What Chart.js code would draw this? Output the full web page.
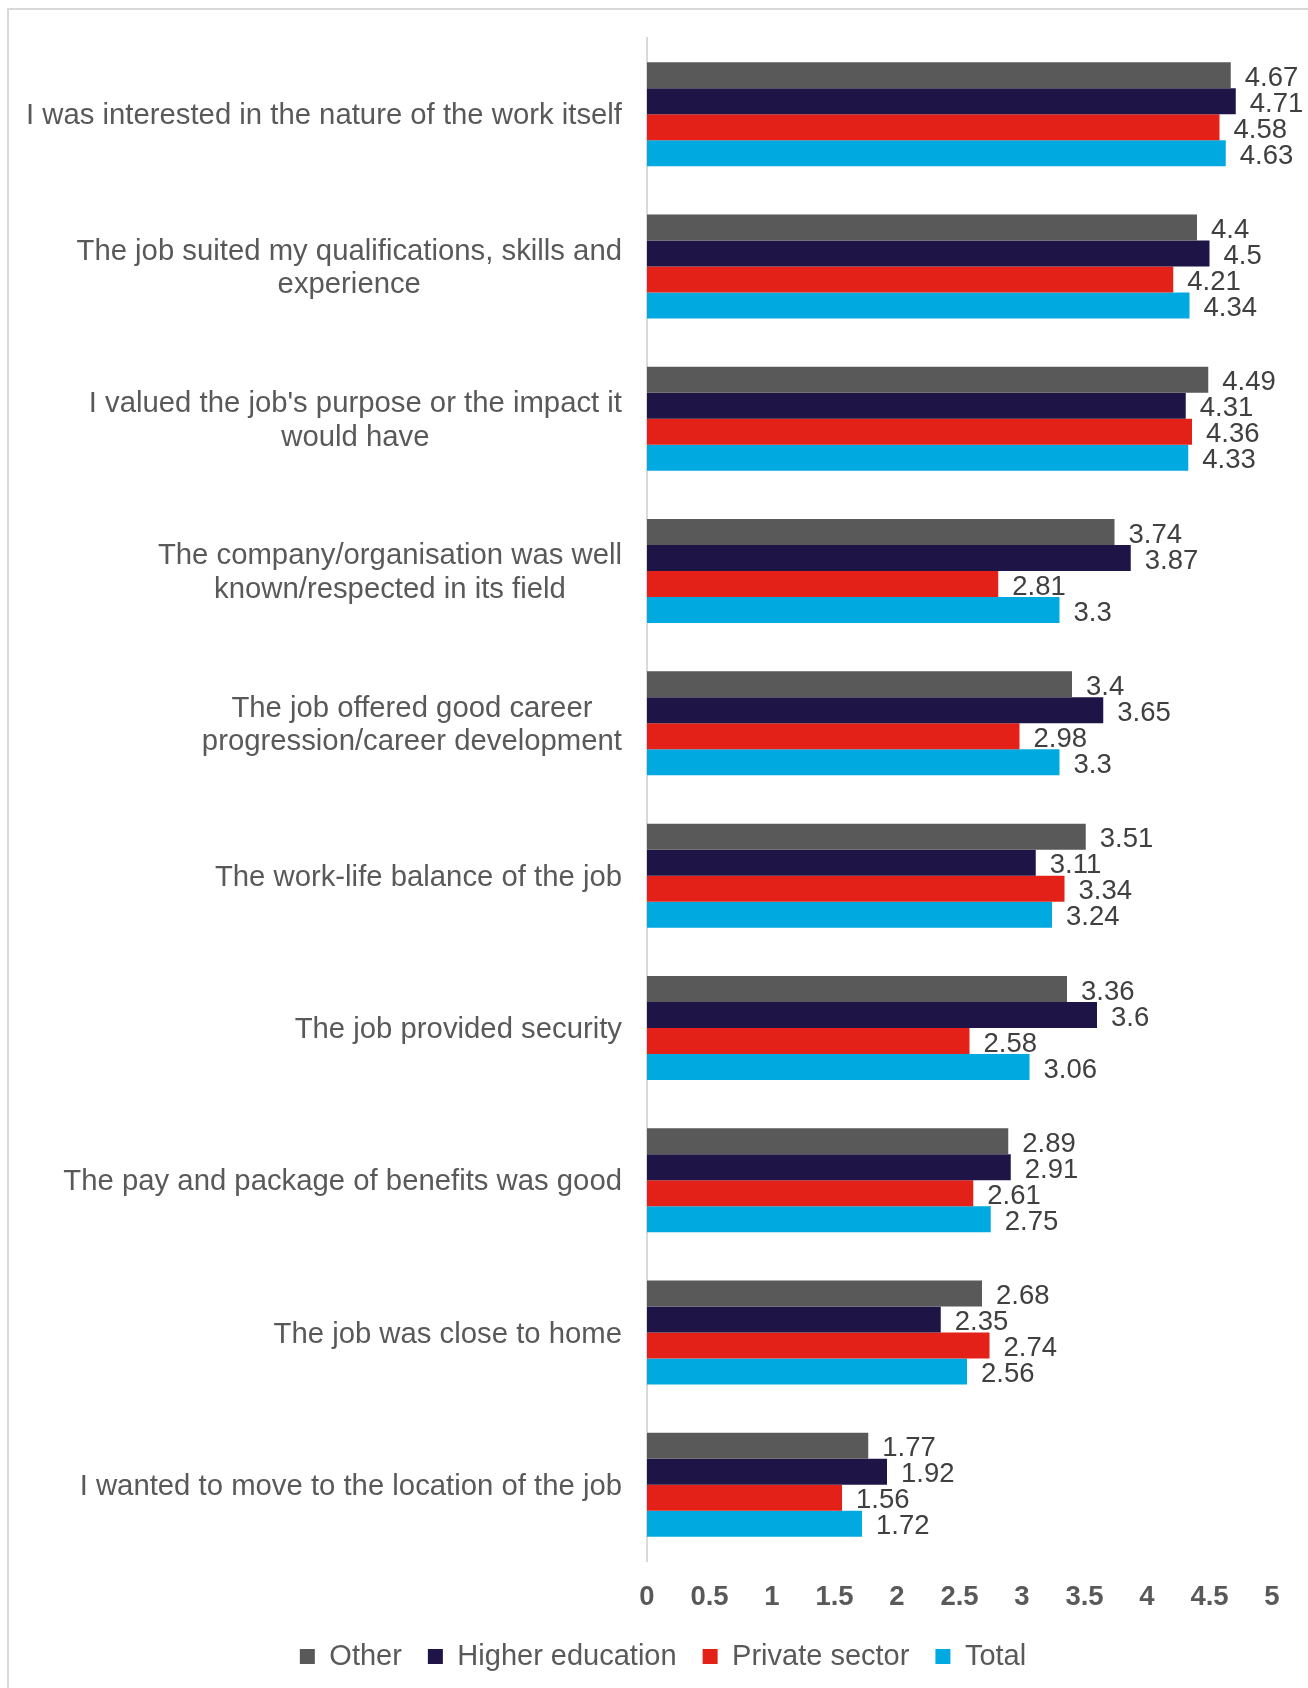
<!DOCTYPE html>
<html>
<head>
<meta charset="utf-8">
<title>Reasons for choosing the job</title>
<script src="https://cdn.jsdelivr.net/npm/chart.js@4/dist/chart.umd.min.js"></script>
<style>
    body { margin: 0; background: #fff; }
    #wrap { position: relative; width: 1308px; height: 1688px; overflow: hidden; }
    #frame {
        position: absolute; left: 7px; top: 8px; width: 1400px; height: 1800px;
        border-top: 2px solid #d9d9d9; border-left: 2px solid #d9d9d9;
    }
    #myChart { position: absolute; left: 0; top: 0; }
</style>
</head>
<body>
<div id="wrap">
    <div id="frame"></div>
    <canvas id="myChart" width="1308" height="1688"></canvas>
</div>
<script>
let reasons = [
    ['I was interested in the nature of the work itself'],
    ['The job suited my qualifications, skills and', 'experience'],
    ['I valued the job\'s purpose or the impact it', 'would have'],
    ['The company/organisation was well', 'known/respected in its field'],
    ['The job offered good career', 'progression/career development'],
    ['The work-life balance of the job'],
    ['The job provided security'],
    ['The pay and package of benefits was good'],
    ['The job was close to home'],
    ['I wanted to move to the location of the job']
]

let other = [4.67, 4.4, 4.49, 3.74, 3.4, 3.51, 3.36, 2.89, 2.68, 1.77]
let higherEducation = [4.71, 4.5, 4.31, 3.87, 3.65, 3.11, 3.6, 2.91, 2.35, 1.92]
let privateSector = [4.58, 4.21, 4.36, 2.81, 2.98, 3.34, 2.58, 2.61, 2.74, 1.56]
let total = [4.63, 4.34, 4.33, 3.3, 3.3, 3.24, 3.06, 2.75, 2.56, 1.72]

let xTicks = [0, 0.5, 1, 1.5, 2, 2.5, 3, 3.5, 4, 4.5, 5]

let fontFamily = '"Liberation Sans", Arial, Helvetica, sans-serif'

// value printed just past the end of each bar
let barValues = {
    id: 'barValues',
    afterDatasetsDraw(chart) {
        let ctx = chart.ctx
        ctx.save()
        ctx.font = '27.5px ' + fontFamily
        ctx.fillStyle = '#404040'
        ctx.textAlign = 'left'
        ctx.textBaseline = 'middle'
        chart.data.datasets.forEach((ds, i) => {
            chart.getDatasetMeta(i).data.forEach((bar, j) => {
                ctx.fillText(String(ds.data[j]), bar.x + 14, bar.y + 3)
            })
        })
        ctx.restore()
    }
}

// category names: block sits against the axis, lines centred inside the block
let categoryNames = {
    id: 'categoryNames',
    afterDraw(chart) {
        let ctx = chart.ctx
        let yScale = chart.scales.y
        let rightEdge = chart.chartArea.left - 25
        let lineHeight = 33.5
        ctx.save()
        ctx.font = '29.3px ' + fontFamily
        ctx.fillStyle = '#595959'
        ctx.textAlign = 'center'
        ctx.textBaseline = 'middle'
        reasons.forEach((lines, i) => {
            let widest = Math.max(...lines.map(l => ctx.measureText(l).width))
            let cx = rightEdge - widest / 2
            let cy = yScale.getPixelForValue(i)
            lines.forEach((line, k) => {
                ctx.fillText(line, cx, cy + (k - (lines.length - 1) / 2) * lineHeight + 2)
            })
        })
        ctx.restore()
    }
}

let ctx = document.getElementById('myChart').getContext('2d')
let chart = new Chart(ctx, {
    type: 'bar',
    data: {
        labels: reasons.map(r => r.join(' ')),
        datasets: [
            { label: 'Other', data: other, backgroundColor: '#595959' },
            { label: 'Higher education', data: higherEducation, backgroundColor: '#1f1446' },
            { label: 'Private sector', data: privateSector, backgroundColor: '#e32119' },
            { label: 'Total', data: total, backgroundColor: '#00a9e0' }
        ]
    },
    options: {
        indexAxis: 'y',
        responsive: false,
        animation: false,
        layout: {
            padding: { top: 38, right: 36, bottom: 7, left: 54 }
        },
        datasets: {
            bar: {
                categoryPercentage: 0.683,
                barPercentage: 1.0,
                borderWidth: 0
            }
        },
        scales: {
            x: {
                min: 0,
                max: 5,
                afterBuildTicks(scale) {
                    scale.ticks = xTicks.map(v => ({ value: v }))
                },
                afterFit(scale) {
                    scale.height = 55
                },
                grid: { display: false },
                border: { display: false },
                ticks: {
                    padding: 12,
                    color: '#595959',
                    font: { family: fontFamily, size: 27.5, weight: 'bold' },
                    callback: v => String(v)
                }
            },
            y: {
                afterFit(scale) {
                    scale.width = 647 - 54
                },
                grid: { display: false },
                border: { display: true, color: '#d9d9d9', width: 2 },
                ticks: { display: false }
            }
        },
        plugins: {
            legend: {
                position: 'bottom',
                labels: {
                    boxWidth: 15,
                    boxHeight: 15,
                    padding: 26,
                    color: '#595959',
                    font: { family: fontFamily, size: 29 }
                }
            },
            tooltip: { enabled: false }
        }
    },
    plugins: [barValues, categoryNames]
})
</script>
</body>
</html>
